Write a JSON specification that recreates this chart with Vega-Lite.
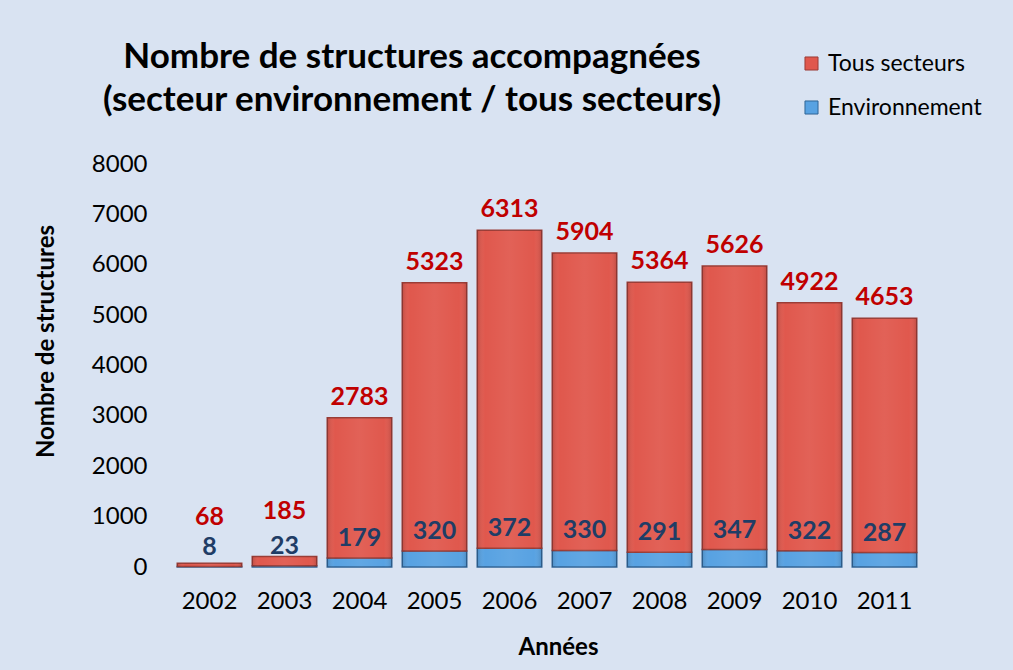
{
  "$schema": "https://vega.github.io/schema/vega-lite/v6.json",
  "autosize": {"type": "none"},
  "width": 750,
  "height": 403,
  "padding": {"left": 172, "top": 164, "right": 91, "bottom": 103},
  "background": "#d9e3f2",
  "config": {
    "font": "Lato",
    "view": {"stroke": null},
    "axis": {"grid": false, "domain": false, "ticks": false, "labelColor": "#000000", "titleColor": "#000000", "labelFont": "Lato", "titleFont": "Lato"}
  },
  "title": {
    "text": ["Nombre de structures accompagnées", "(secteur environnement / tous secteurs)"],
    "fontSize": 35,
    "fontWeight": "bold",
    "font": "Lato",
    "color": "#000000",
    "lineHeight": 43,
    "anchor": "middle",
    "dx": -135,
    "dy": 106,
    "offset": 40
  },
  "data": {
    "values": [
      {"year": "2002", "series": "Environnement", "value": 8},
      {"year": "2002", "series": "Tous secteurs", "value": 68},
      {"year": "2003", "series": "Environnement", "value": 23},
      {"year": "2003", "series": "Tous secteurs", "value": 185},
      {"year": "2004", "series": "Environnement", "value": 179},
      {"year": "2004", "series": "Tous secteurs", "value": 2783},
      {"year": "2005", "series": "Environnement", "value": 320},
      {"year": "2005", "series": "Tous secteurs", "value": 5323},
      {"year": "2006", "series": "Environnement", "value": 372},
      {"year": "2006", "series": "Tous secteurs", "value": 6313},
      {"year": "2007", "series": "Environnement", "value": 330},
      {"year": "2007", "series": "Tous secteurs", "value": 5904},
      {"year": "2008", "series": "Environnement", "value": 291},
      {"year": "2008", "series": "Tous secteurs", "value": 5364},
      {"year": "2009", "series": "Environnement", "value": 347},
      {"year": "2009", "series": "Tous secteurs", "value": 5626},
      {"year": "2010", "series": "Environnement", "value": 322},
      {"year": "2010", "series": "Tous secteurs", "value": 4922},
      {"year": "2011", "series": "Environnement", "value": 287},
      {"year": "2011", "series": "Tous secteurs", "value": 4653}
    ]
  },
  "encoding": {
    "x": {
      "field": "year", "type": "nominal", "sort": null,
      "scale": {"paddingInner": 0.14, "paddingOuter": 0.07},
      "axis": {"labelAngle": 0, "labelFontSize": 24, "labelPadding": 22, "title": "Années", "titleFontSize": 24, "titleFontWeight": "bold", "titlePadding": 22, "titleX": 386}
    },
    "y": {
      "field": "value", "type": "quantitative", "stack": "zero",
      "scale": {"domain": [0, 8000], "nice": false},
      "axis": {"values": [0, 1000, 2000, 3000, 4000, 5000, 6000, 7000, 8000], "labelFontSize": 24, "labelPadding": 25, "format": "d", "title": "Nombre de structures", "titleFontSize": 24, "titleFontWeight": "bold", "titleX": -126, "titleY": 177, "titleAlign": "center", "titleBaseline": "middle", "titleAngle": 270}
    },
    "order": {"field": "series", "sort": "ascending"}
  },
  "layer": [
    {
      "mark": {"type": "bar", "strokeWidth": 1.5},
      "encoding": {
        "color": {
          "field": "series", "type": "nominal",
          "scale": {"domain": ["Tous secteurs", "Environnement"], "range": ["#e0584d", "#58a2e2"]},
          "legend": {"title": null, "orient": "none", "legendX": 628, "legendY": -112, "symbolType": "square", "symbolSize": 170, "symbolStrokeWidth": 1, "labelFontSize": 23, "labelColor": "#000000", "labelFont": "Lato", "rowPadding": 20, "labelOffset": 5}
        },
        "stroke": {
          "field": "series", "type": "nominal",
          "scale": {"domain": ["Tous secteurs", "Environnement"], "range": ["#9a3c36", "#2f6496"]},
          "legend": null
        }
      }
    },
    {
      "mark": {
        "type": "bar",
        "fill": {"gradient": "linear", "x1": 0, "y1": 0, "x2": 1, "y2": 0, "stops": [
          {"offset": 0, "color": "rgba(0,0,0,0.14)"},
          {"offset": 0.12, "color": "rgba(255,255,255,0.0)"},
          {"offset": 0.5, "color": "rgba(255,255,255,0.06)"},
          {"offset": 0.88, "color": "rgba(255,255,255,0.0)"},
          {"offset": 1, "color": "rgba(0,0,0,0.14)"}
        ]},
        "strokeWidth": 0
      },
      "encoding": {"detail": {"field": "series"}}
    },
    {
      "mark": {"type": "text", "dy": -21, "fontSize": 25, "fontWeight": "bold", "color": "#c00000", "baseline": "middle"},
      "encoding": {
        "text": {"condition": {"test": "datum.series === 'Tous secteurs' && datum.value > 1000", "field": "value", "type": "quantitative", "format": "d"}, "value": ""}
      }
    },
    {
      "mark": {"type": "text", "dy": -46, "fontSize": 25, "fontWeight": "bold", "color": "#c00000", "baseline": "middle"},
      "encoding": {
        "text": {"condition": {"test": "datum.series === 'Tous secteurs' && datum.value < 1000", "field": "value", "type": "quantitative", "format": "d"}, "value": ""}
      }
    },
    {
      "mark": {"type": "text", "dy": -20, "fontSize": 25, "fontWeight": "bold", "color": "#1f3d66", "baseline": "middle"},
      "encoding": {
        "text": {"condition": {"test": "datum.series === 'Environnement'", "field": "value", "type": "quantitative", "format": "d"}, "value": ""}
      }
    }
  ]
}
